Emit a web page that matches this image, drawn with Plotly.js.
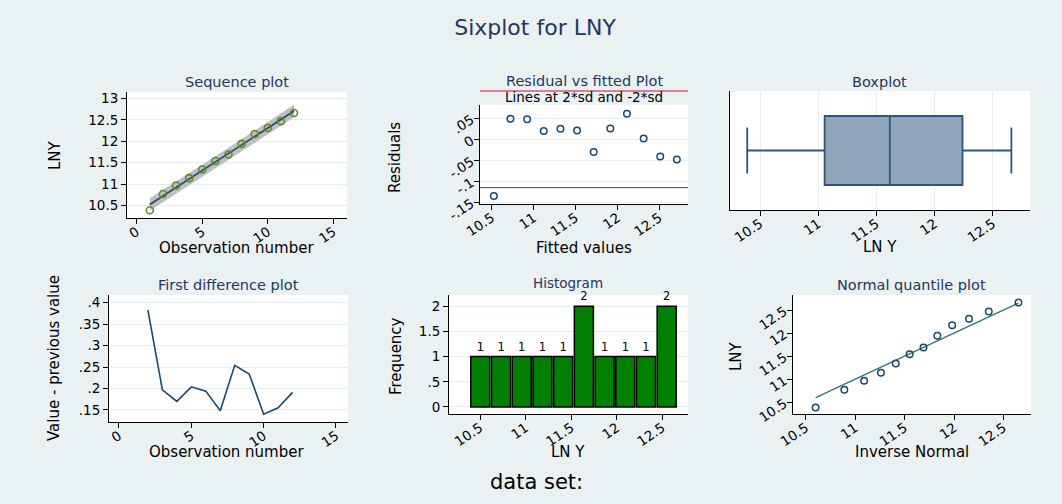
<!DOCTYPE html>
<html>
<head>
<meta charset="utf-8">
<script src="https://cdn.plot.ly/plotly-3.0.1.min.js"></script>
<style>html,body{margin:0;padding:0;background:#eaf1f3;}#chart{width:1062px;height:504px;}</style>
</head>
<body>
<div id="chart"></div>
<script>
// ---------------- data ----------------
const obs = [1,2,3,4,5,6,7,8,9,10,11,12];
const lny = [10.39,10.77,10.97,11.14,11.34,11.54,11.69,11.94,12.17,12.31,12.47,12.66];
const fitted = [10.525,10.723,10.922,11.120,11.319,11.517,11.715,11.914,12.112,12.311,12.509,12.707];
const bandUpper = [10.67,10.87,11.06,11.26,11.45,11.65,11.85,12.05,12.25,12.45,12.65,12.85];
const bandLower = [10.38,10.58,10.78,10.98,11.18,11.38,11.58,11.78,11.98,12.17,12.37,12.56];
const residuals = [-0.135,0.049,0.048,0.020,0.025,0.021,-0.030,0.026,0.061,0.002,-0.041,-0.048];
const sdLines = [-0.115, 0.115];
const diffObs = [2,3,4,5,6,7,8,9,10,11,12];
const diffs = [0.383,0.197,0.170,0.204,0.194,0.148,0.254,0.234,0.140,0.155,0.191];
const histCounts = [1,1,1,1,1,2,1,1,1,2];
const invNormal = [10.60,10.89,11.09,11.26,11.41,11.55,11.69,11.83,11.98,12.15,12.35,12.65];

const obsTicks = [0,5,10,15];
const lnyTicks = [10.5,11,11.5,12,12.5];
const seqYTicks = [10.5,11,11.5,12,12.5,13];
const resTicks = [-0.15,-0.1,-0.05,0,0.05];
const resTickText = ['-.15','-.1','-.05','0','.05'];
const diffTicks = [0.15,0.2,0.25,0.3,0.35,0.4];
const diffTickText = ['.15','.2','.25','.3','.35','.4'];
const freqTicks = [0,0.5,1,1.5,2];
const freqTickText = ['0','.5','1','1.5','2'];

// ---------------- style / layout helpers ----------------
const W = 1062, H = 504;
const F = 'DejaVu Sans, Liberation Sans, Arial, sans-serif';
const NAVY = '#1a476f';
const TITLE_C = '#24365f';
const GRID = '#e6edf0';
const ROT = -34;
const px = p => p / W;
const py = p => 1 - p / H;
const dom = (a, b) => [px(a), px(b)];
const domY = (top, bottom) => [py(bottom), py(top)];

function ax(extra) {
  return Object.assign({
    showline: true, linecolor: '#000', linewidth: 1,
    ticks: 'outside', ticklen: 5, tickcolor: '#000', tickwidth: 1,
    tickfont: {family: F, size: 13.5, color: '#000'},
    zeroline: false, showgrid: false, gridcolor: GRID, gridwidth: 1,
    fixedrange: true
  }, extra);
}
function xax(extra) {
  return ax(Object.assign({tickangle: ROT, ticklabelstandoff: -5}, extra));
}

function ann(text, x, y, size, color, angle) {
  return {text: text, x: px(x), y: py(y), xref: 'paper', yref: 'paper',
    xanchor: 'center', yanchor: 'middle', showarrow: false,
    textangle: angle || 0, font: {family: F, size: size, color: color}};
}

// panel geometry in pixels
const P1 = {x: dom(127,347), y: domY(92,218)};
const P2 = {x: dom(480,688), y: domY(105,204)};
const P3 = {x: dom(730,1030), y: domY(91,210)};
const P4 = {x: dom(109,348), y: domY(295,422)};
const P5 = {x: dom(449,688), y: domY(295,414)};
const P6 = {x: dom(793,1031), y: domY(295,414)};

const p2yRange = [-0.154, 0.0817];

// histogram bins derived from data
const lnyMin = Math.min(...lny), lnyMax = Math.max(...lny);
const binSize = (lnyMax - lnyMin) / histCounts.length;
const binCenters = histCounts.map((_, i) => lnyMin + (i + 0.5) * binSize);

const traces = [
  // Panel 1: sequence plot
  {x: obs, y: bandUpper, xaxis: 'x', yaxis: 'y', mode: 'lines', line: {width: 0, color: '#bdbdbd'}, hoverinfo: 'skip', showlegend: false},
  {x: obs, y: bandLower, xaxis: 'x', yaxis: 'y', mode: 'lines', line: {width: 0, color: '#bdbdbd'}, fill: 'tonexty', fillcolor: '#bfbfbf', hoverinfo: 'skip', showlegend: false},
  {x: obs, y: fitted, xaxis: 'x', yaxis: 'y', mode: 'lines', line: {color: NAVY, width: 1.6}, showlegend: false},
  {x: obs, y: lny, xaxis: 'x', yaxis: 'y', mode: 'markers', marker: {symbol: 'circle-open', size: 7, color: '#5d8a26', line: {width: 1.6}}, showlegend: false},
  // Panel 2: residual vs fitted
  {x: fitted, y: residuals, xaxis: 'x2', yaxis: 'y2', mode: 'markers', marker: {symbol: 'circle-open', size: 6.5, color: NAVY, line: {width: 1.5}}, showlegend: false},
  // Panel 3: boxplot
  {x: lny, y0: 0, type: 'box', orientation: 'h', xaxis: 'x3', yaxis: 'y3', quartilemethod: 'exclusive', boxpoints: false,
   width: 0.58, whiskerwidth: 0.667, fillcolor: '#8ea5ba', line: {color: '#2c5680', width: 1.8}, showlegend: false},
  // Panel 4: first difference
  {x: diffObs, y: diffs, xaxis: 'x4', yaxis: 'y4', mode: 'lines', line: {color: NAVY, width: 1.6}, showlegend: false},
  // Panel 5: histogram
  {x: binCenters, y: histCounts, type: 'bar', width: binSize * 0.92, xaxis: 'x5', yaxis: 'y5',
   marker: {color: '#007f00', line: {color: '#000', width: 1.5}},
   text: histCounts.map(String), textposition: 'outside', cliponaxis: false,
   textfont: {family: F, size: 11.5, color: '#000'}, showlegend: false},
  // Panel 6: normal quantile
  {x: [Math.min(...invNormal), Math.max(...invNormal)], y: [Math.min(...invNormal), Math.max(...invNormal)], xaxis: 'x6', yaxis: 'y6', mode: 'lines', line: {color: '#2e7866', width: 1.3}, showlegend: false},
  {x: invNormal, y: lny, xaxis: 'x6', yaxis: 'y6', mode: 'markers', marker: {symbol: 'circle-open', size: 6.5, color: NAVY, line: {width: 1.5}}, showlegend: false}
];

// upper sd line is drawn above the plot region (as in the reference): place via axis scale in paper coords
const p2Frac = v => P2.y[0] + (v - p2yRange[0]) / (p2yRange[1] - p2yRange[0]) * (P2.y[1] - P2.y[0]);

const layout = {
  width: W, height: H,
  margin: {l: 0, r: 0, t: 0, b: 0},
  paper_bgcolor: '#eaf1f3', plot_bgcolor: '#ffffff',
  showlegend: false, bargap: 0,
  title: {text: 'Sixplot for LNY', x: px(535), y: py(27), xref: 'paper', yref: 'paper', xanchor: 'center', yanchor: 'middle',
    font: {family: F, size: 22, color: TITLE_C}},
  xaxis: xax({domain: P1.x, anchor: 'y', range: [-0.74, 16.04], tickvals: obsTicks}),
  yaxis: ax({domain: P1.y, anchor: 'x', range: [10.21, 13.15], tickvals: seqYTicks, showgrid: true}),
  xaxis2: xax({domain: P2.x, anchor: 'y2', range: [10.36, 12.84], tickvals: lnyTicks}),
  yaxis2: ax({domain: P2.y, anchor: 'x2', range: p2yRange, tickvals: resTicks, ticktext: resTickText, tickangle: ROT, showgrid: true}),
  xaxis3: xax({domain: P3.x, anchor: 'y3', range: [10.242, 12.82], tickvals: lnyTicks, showgrid: true}),
  yaxis3: ax({domain: P3.y, anchor: 'x3', range: [-0.5, 0.5], ticks: '', showticklabels: false}),
  xaxis4: xax({domain: P4.x, anchor: 'y4', range: [-0.69, 15.83], tickvals: obsTicks}),
  yaxis4: ax({domain: P4.y, anchor: 'x4', range: [0.122, 0.418], tickvals: diffTicks, ticktext: diffTickText, showgrid: true}),
  xaxis5: xax({domain: P5.x, anchor: 'y5', range: [10.16, 12.78], tickvals: lnyTicks}),
  yaxis5: ax({domain: P5.y, anchor: 'x5', range: [-0.14, 2.224], tickvals: freqTicks, ticktext: freqTickText, showgrid: true}),
  xaxis6: xax({domain: P6.x, anchor: 'y6', range: [10.371, 12.777], tickvals: lnyTicks}),
  yaxis6: ax({domain: P6.y, anchor: 'x6', range: [10.247, 12.825], tickvals: lnyTicks, tickangle: ROT}),
  shapes: [
    {type: 'line', xref: 'x2 domain', yref: 'y2', x0: 0, x1: 1, y0: sdLines[0], y1: sdLines[0], line: {color: '#c8102e', width: 1}},
    {type: 'line', xref: 'x2 domain', yref: 'paper', x0: 0, x1: 1, y0: p2Frac(sdLines[1]), y1: p2Frac(sdLines[1]), line: {color: '#c8102e', width: 1}}
  ],
  annotations: [
    ann('Sequence plot', 237, 82, 14.5, TITLE_C),
    ann('Residual vs fitted Plot', 584, 81, 14.5, TITLE_C),
    ann('Lines at 2*sd and -2*sd', 584, 97, 13.5, '#000'),
    ann('Boxplot', 879, 82, 14.5, TITLE_C),
    ann('First difference plot', 228, 285, 14.5, TITLE_C),
    ann('Histogram', 568, 283, 13.5, TITLE_C),
    ann('Normal quantile plot', 911.5, 285, 14.5, TITLE_C),

    ann('Observation number', 236.5, 247.5, 15, '#000'),
    ann('LNY', 55, 155, 15, '#000', -90),
    ann('Fitted values', 584, 247.5, 15, '#000'),
    ann('Residuals', 395, 158, 15, '#000', -90),
    ann('LN Y', 880, 246.5, 15, '#000'),
    ann('Observation number', 226.5, 452, 15, '#000'),
    ann('Value - previous value', 54, 358, 15, '#000', -90),
    ann('LN Y', 568, 452, 15, '#000'),
    ann('Frequency', 396, 356, 15, '#000', -90),
    ann('Inverse Normal', 911.5, 452, 15, '#000'),
    ann('LNY', 736, 356, 15, '#000', -90),

    ann('data set:', 536, 482, 21, '#000')
  ]
};

Plotly.newPlot('chart', traces, layout, {displayModeBar: false, staticPlot: true});
</script>
</body>
</html>
